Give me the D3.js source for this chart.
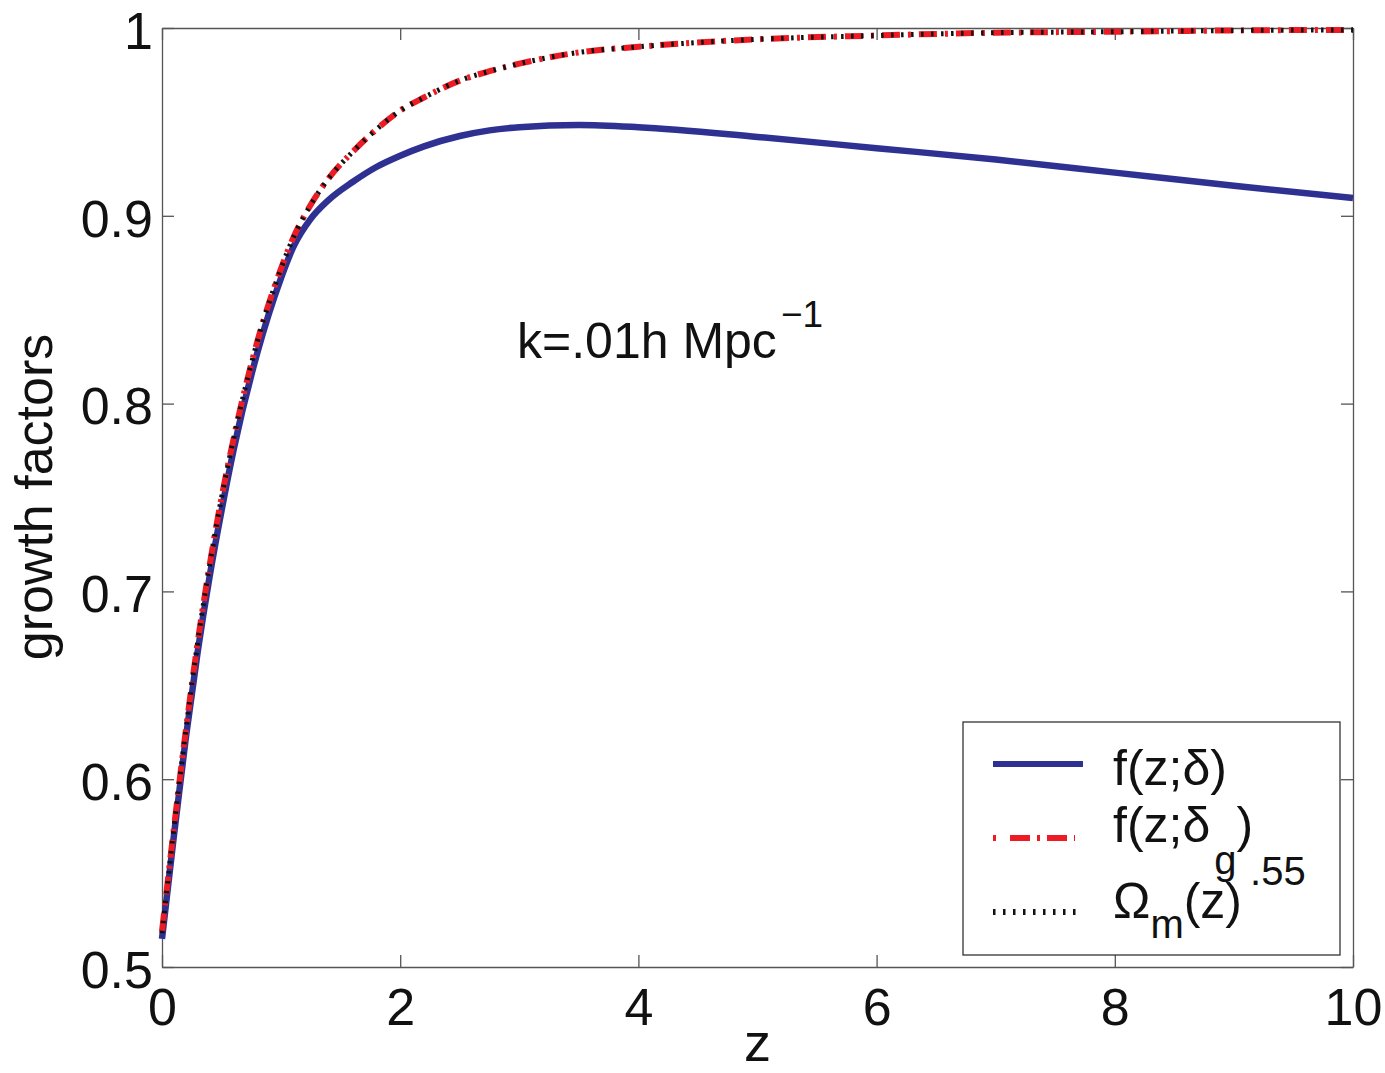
<!DOCTYPE html>
<html>
<head>
<meta charset="utf-8">
<script src="https://cdn.jsdelivr.net/npm/d3@7"></script>
<style>
  body { margin: 0; background: #fff; }
  svg { font-family: "Liberation Sans", Arial, Helvetica, sans-serif; }
</style>
</head>
<body>
<div id="chart"></div>
<script>
// values
const zValues = [0, 0.1, 0.2, 0.3, 0.4, 0.5, 0.6, 0.8, 1.0, 1.1, 1.25, 1.4, 1.6, 1.8, 2.0, 2.2, 2.5, 2.75, 3.0, 3.5, 4, 5, 6, 7, 8, 9, 10];
const fDelta = [0.515, 0.570, 0.622, 0.668, 0.708, 0.743, 0.775, 0.827, 0.867, 0.883, 0.8985, 0.9085, 0.918, 0.926, 0.932, 0.937, 0.9425, 0.9455, 0.9472, 0.9484, 0.9472, 0.942, 0.936, 0.930, 0.923, 0.916, 0.9095];
const fDeltaG = [0.519, 0.574, 0.626, 0.673, 0.714, 0.750, 0.781, 0.833, 0.872, 0.888, 0.906, 0.920, 0.934, 0.946, 0.956, 0.963, 0.972, 0.977, 0.981, 0.987, 0.990, 0.994, 0.996, 0.9975, 0.998, 0.9987, 0.999];
const omegaPow = [0.518, 0.574, 0.626, 0.673, 0.714, 0.750, 0.781, 0.833, 0.872, 0.888, 0.906, 0.920, 0.934, 0.946, 0.956, 0.963, 0.972, 0.977, 0.981, 0.987, 0.990, 0.994, 0.996, 0.9975, 0.998, 0.9987, 0.999];

const xTicks = [0, 2, 4, 6, 8, 10];
const yTicks = [0.5, 0.6, 0.7, 0.8, 0.9, 1];

const svgWidth = 1385;
const svgHeight = 1073;
const margin = { top: 28, right: 32, bottom: 106, left: 162 };
const width = svgWidth - margin.left - margin.right;
const height = svgHeight - margin.top - margin.bottom;

const svg = d3.select("#chart")
    .append("svg")
    .attr("width", svgWidth)
    .attr("height", svgHeight);

svg.append("rect").attr("width", svgWidth).attr("height", svgHeight).attr("fill", "#fff");

const g = svg.append("g")
    .attr("transform", `translate(${margin.left},${margin.top})`);

const xScale = d3.scaleLinear().domain([0, 10]).range([0, width]);
const yScale = d3.scaleLinear().domain([0.5, 1]).range([height, 0]);

const fmtY = d => d === 1 ? "1" : d3.format(".1f")(d);

function styleAxis(sel) {
    sel.select(".domain").attr("stroke", "#555").attr("stroke-width", 1.3);
    sel.selectAll(".tick line").attr("stroke", "#555").attr("stroke-width", 1.3);
    sel.selectAll(".tick text").attr("fill", "#111").style("font-size", "52px");
}

g.append("g")
    .attr("transform", `translate(0,${height})`)
    .call(d3.axisBottom(xScale).tickValues(xTicks).tickSizeInner(-12).tickSizeOuter(0).tickPadding(21))
    .call(styleAxis);

g.append("g")
    .call(d3.axisTop(xScale).tickValues(xTicks).tickSizeInner(-12).tickSizeOuter(0).tickFormat(""))
    .call(styleAxis);

g.append("g")
    .call(d3.axisLeft(yScale).tickValues(yTicks).tickSizeInner(-12).tickSizeOuter(0).tickPadding(9).tickFormat(fmtY))
    .call(styleAxis)
    .call(a => a.selectAll(".tick text").attr("dy", "0.39em"));

g.append("g")
    .attr("transform", `translate(${width},0)`)
    .call(d3.axisRight(yScale).tickValues(yTicks).tickSizeInner(-12).tickSizeOuter(0).tickFormat(""))
    .call(styleAxis);

const line = values => d3.line()
    .x((d, i) => xScale(zValues[i]))
    .y(d => yScale(d))
    .curve(d3.curveMonotoneX)(values);

g.append("path").attr("d", line(fDelta))
    .attr("fill", "none").attr("stroke", "#2e3192").attr("stroke-width", 6.5);

g.append("path").attr("d", line(fDeltaG))
    .attr("fill", "none").attr("stroke", "#ed1c24").attr("stroke-width", 6)
    .attr("stroke-dasharray", "18,8,3,8");

g.append("path").attr("d", line(omegaPow))
    .attr("fill", "none").attr("stroke", "#111").attr("stroke-width", 5)
    .attr("stroke-dasharray", "2.5,7.5");

// annotation
const note = svg.append("text").attr("x", 517).attr("y", 358)
    .style("font-size", "50px").attr("fill", "#111");
note.append("tspan").text("k=.01h Mpc");
note.append("tspan").attr("dx", 4).attr("dy", -31).style("font-size", "37px").text("\u22121");

// axis labels
svg.append("text")
    .attr("x", margin.left + width / 2).attr("y", 1061)
    .attr("text-anchor", "middle").style("font-size", "54px").attr("fill", "#111")
    .text("z");

svg.append("text")
    .attr("transform", "translate(52,497) rotate(-90)")
    .attr("text-anchor", "middle").style("font-size", "52px").attr("fill", "#111")
    .text("growth factors");

// legend
const legend = svg.append("g");
legend.append("rect")
    .attr("x", 963).attr("y", 722).attr("width", 377).attr("height", 233)
    .attr("fill", "#fff").attr("stroke", "#333").attr("stroke-width", 1.3);

legend.append("line").attr("x1", 993).attr("x2", 1083).attr("y1", 764).attr("y2", 764)
    .attr("stroke", "#2e3192").attr("stroke-width", 6);
legend.append("line").attr("x1", 993).attr("x2", 1075).attr("y1", 838).attr("y2", 838)
    .attr("stroke", "#ed1c24").attr("stroke-width", 6).attr("stroke-dasharray", "3,14,20,7,3,7,20,7,3");
legend.append("line").attr("x1", 993).attr("x2", 1081).attr("y1", 912).attr("y2", 912)
    .attr("stroke", "#111").attr("stroke-width", 6).attr("stroke-dasharray", "2.5,7.5");

const l1 = legend.append("text").attr("x", 1113).attr("y", 785)
    .style("font-size", "50px").attr("fill", "#111");
l1.append("tspan").text("f(z;\u03b4)");

const l2 = legend.append("text").attr("x", 1113).attr("y", 842)
    .style("font-size", "50px").attr("fill", "#111");
l2.append("tspan").text("f(z;\u03b4");
l2.append("tspan").attr("dx", 4).attr("dy", 32).style("font-size", "40px").text("g");
l2.append("tspan").attr("dx", 0).attr("dy", -32).text(")");

const l3 = legend.append("text").attr("x", 1113).attr("y", 918)
    .style("font-size", "50px").attr("fill", "#111");
l3.append("tspan").text("\u03a9");
l3.append("tspan").attr("dy", 20).style("font-size", "40px").text("m");
l3.append("tspan").attr("dy", -20).text("(z)");
l3.append("tspan").attr("dx", 8).attr("dy", -33).style("font-size", "40px").text(".55");
</script>
</body>
</html>
